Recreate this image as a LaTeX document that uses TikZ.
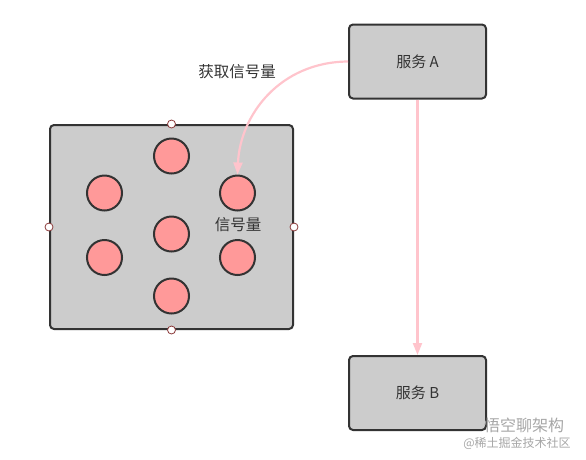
\documentclass[tikz,border=0pt]{standalone}
\usepackage{fontspec}
\setmainfont{Noto Sans CJK SC}
\usetikzlibrary{arrows.meta}
\definecolor{boxfill}{HTML}{CCCCCC}
\definecolor{edge}{HTML}{333333}
\definecolor{dotfill}{HTML}{FF9999}
\definecolor{link}{HTML}{FFC4CC}
\definecolor{handle}{HTML}{8B3A3A}
\tikzset{
  svc/.style={draw=edge, line width=2pt, fill=boxfill, rounded corners=4pt, minimum width=137pt, minimum height=74pt, inner sep=0pt, font=\fontsize{15pt}{17pt}\selectfont, text=edge},
  bigbox/.style={draw=edge, line width=2pt, fill=boxfill, rounded corners=4pt, minimum width=243pt, minimum height=204pt, inner sep=0pt},
  sema/.style={circle, draw=edge, line width=2pt, fill=dotfill, minimum size=35pt, inner sep=0pt},
  handledot/.style={circle, draw=handle, line width=0.8pt, fill=white, minimum size=8pt, inner sep=0pt},
  lbl/.style={font=\fontsize{15.5pt}{17pt}\selectfont, text=edge, inner sep=0pt},
  conn/.style={draw=link, line width=2.2pt, -{Triangle[width=9pt,length=12pt]}},
  wm/.style={text=gray!70, inner sep=0pt}
}
\begin{document}
\begin{tikzpicture}[x=1pt,y=-1pt]
\useasboundingbox (0,0) rectangle (586,459);
\node[bigbox] (big) at (171.5,227) {};
\node[svc] (A) at (417.5,61.5) {服务 A};
\node[svc] (B) at (417.5,393) {服务 B};
\node[sema] (c1) at (171.5,156) {};
\node[sema] (c2) at (104.5,193) {};
\node[sema] (c3) at (237.5,193) {};
\node[sema] (c4) at (171.5,234) {};
\node[sema] (c5) at (104.5,257.5) {};
\node[sema] (c6) at (237.5,257.5) {};
\node[sema] (c7) at (171.5,296) {};
\node[lbl] (semlabel) at (238,225) {信号量};
\node[lbl] (getlabel) at (237,72) {获取信号量};
\node[handledot] (h1) at (big.north) {};
\node[handledot] (h2) at (big.south) {};
\node[handledot] (h3) at (big.west) {};
\node[handledot] (h4) at (big.east) {};
\coordinate (Aleft) at (A.west);
\draw[conn] (Aleft) .. controls (280,62) and (240,115) .. (c3.north);
\draw[conn] (A.south) -- (B.north);
\node[wm, font=\fontsize{16pt}{18pt}\selectfont] (wm1) at (524,425) {悟空聊架构};
\node[wm, font=\fontsize{12pt}{14pt}\selectfont] (wm2) at (517,443) {@稀土掘金技术社区};
\end{tikzpicture}
\end{document}
